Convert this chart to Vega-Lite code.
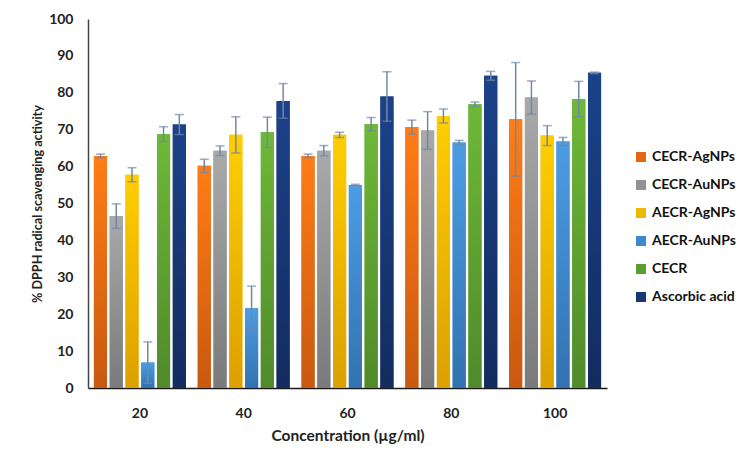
{
  "$schema": "https://vega.github.io/schema/vega-lite/v6.json",
  "width": 519,
  "height": 369,
  "autosize": "none",
  "padding": {"left": 88, "top": 19, "right": 149, "bottom": 78},
  "background": "white",
  "config": {
    "font": "Lato",
    "view": {"stroke": null},
    "axis": {"labelFont": "Lato", "titleFont": "Lato", "labelFontWeight": "bold", "titleFontWeight": "bold", "labelColor": "#222222", "titleColor": "#222222", "labelFontSize": 14, "titleFontSize": 13, "grid": false, "ticks": false},
    "axisY": {"values": [0,10,20,30,40,50,60,70,80,90,100], "labelOverlap": false, "labelPadding": 15, "titlePadding": 4, "titleFontSize": 12.6, "domainColor": "#444444", "domainWidth": 1.5},
    "legend": {"labelFont": "Lato", "labelFontWeight": "bold", "labelFontSize": 14, "labelColor": "#111111"}
  },
  "data": {
    "values": [
      {"conc": "20", "sample": "CECR-AgNPs", "value": 62.9, "lo": 62.4, "hi": 63.4},
      {"conc": "20", "sample": "CECR-AuNPs", "value": 46.6, "lo": 43.3, "hi": 49.9},
      {"conc": "20", "sample": "AECR-AgNPs", "value": 57.8, "lo": 55.9, "hi": 59.7},
      {"conc": "20", "sample": "AECR-AuNPs", "value": 6.9, "lo": 1.3, "hi": 12.5},
      {"conc": "20", "sample": "CECR", "value": 68.8, "lo": 66.8, "hi": 70.8},
      {"conc": "20", "sample": "Ascorbic acid", "value": 71.4, "lo": 68.7, "hi": 74.1},
      {"conc": "40", "sample": "CECR-AgNPs", "value": 60.2, "lo": 58.4, "hi": 62.0},
      {"conc": "40", "sample": "CECR-AuNPs", "value": 64.3, "lo": 63.0, "hi": 65.6},
      {"conc": "40", "sample": "AECR-AgNPs", "value": 68.6, "lo": 63.7, "hi": 73.5},
      {"conc": "40", "sample": "AECR-AuNPs", "value": 21.6, "lo": 15.6, "hi": 27.6},
      {"conc": "40", "sample": "CECR", "value": 69.3, "lo": 65.2, "hi": 73.4},
      {"conc": "40", "sample": "Ascorbic acid", "value": 77.8, "lo": 73.1, "hi": 82.5},
      {"conc": "60", "sample": "CECR-AgNPs", "value": 62.9, "lo": 62.4, "hi": 63.4},
      {"conc": "60", "sample": "CECR-AuNPs", "value": 64.3, "lo": 62.9, "hi": 65.7},
      {"conc": "60", "sample": "AECR-AgNPs", "value": 68.6, "lo": 67.9, "hi": 69.3},
      {"conc": "60", "sample": "AECR-AuNPs", "value": 55.0, "lo": 54.8, "hi": 55.2},
      {"conc": "60", "sample": "CECR", "value": 71.5, "lo": 69.7, "hi": 73.3},
      {"conc": "60", "sample": "Ascorbic acid", "value": 79.0, "lo": 72.3, "hi": 85.7},
      {"conc": "80", "sample": "CECR-AgNPs", "value": 70.7, "lo": 68.8, "hi": 72.6},
      {"conc": "80", "sample": "CECR-AuNPs", "value": 69.8, "lo": 64.7, "hi": 74.9},
      {"conc": "80", "sample": "AECR-AgNPs", "value": 73.7, "lo": 71.8, "hi": 75.6},
      {"conc": "80", "sample": "AECR-AuNPs", "value": 66.5, "lo": 65.9, "hi": 67.1},
      {"conc": "80", "sample": "CECR", "value": 76.9, "lo": 76.3, "hi": 77.5},
      {"conc": "80", "sample": "Ascorbic acid", "value": 84.6, "lo": 83.4, "hi": 85.8},
      {"conc": "100", "sample": "CECR-AgNPs", "value": 72.8, "lo": 57.4, "hi": 88.2},
      {"conc": "100", "sample": "CECR-AuNPs", "value": 78.7, "lo": 74.2, "hi": 83.2},
      {"conc": "100", "sample": "AECR-AgNPs", "value": 68.4, "lo": 65.7, "hi": 71.1},
      {"conc": "100", "sample": "AECR-AuNPs", "value": 66.8, "lo": 65.7, "hi": 67.9},
      {"conc": "100", "sample": "CECR", "value": 78.3, "lo": 73.5, "hi": 83.1},
      {"conc": "100", "sample": "Ascorbic acid", "value": 85.4, "lo": 85.2, "hi": 85.6}
    ]
  },
  "encoding": {
    "x": {"field": "conc", "type": "nominal", "sort": ["20", "40", "60", "80", "100"],
      "scale": {"paddingInner": 0.114, "paddingOuter": 0.057},
      "axis": {"title": "Concentration (µg/ml)", "titleFontSize": 15.5, "labelAngle": 0, "labelPadding": 18, "titlePadding": 8, "domainColor": "#1a1a1a", "domainWidth": 1.5}},
    "xOffset": {"field": "sample", "type": "nominal", "sort": ["CECR-AgNPs", "CECR-AuNPs", "AECR-AgNPs", "AECR-AuNPs", "CECR", "Ascorbic acid"], "scale": {"paddingInner": 0.17}},
    "y": {"field": "value", "type": "quantitative", "scale": {"domain": [0, 100]}, "axis": {"title": "% DPPH radical scavenging activity"}}
  },
  "layer": [
    {
      "mark": {"type": "bar"},
      "encoding": {
        "color": {"field": "sample", "type": "nominal",
          "sort": ["CECR-AgNPs", "CECR-AuNPs", "AECR-AgNPs", "AECR-AuNPs", "CECR", "Ascorbic acid"],
          "scale": {"domain": ["CECR-AgNPs", "CECR-AuNPs", "AECR-AgNPs", "AECR-AuNPs", "CECR", "Ascorbic acid"], "range": ["#E4660F", "#929292", "#EDB900", "#3E88CE", "#5D9E31", "#173874"]},
          "legend": {"title": null, "orient": "none", "legendX": 546, "legendY": 131, "symbolType": "square", "symbolSize": 100, "symbolStrokeWidth": 0, "rowPadding": 14, "labelOffset": 4}}
      }
    },
    {
      "transform": [{"filter": {"field": "sample", "equal": "CECR-AgNPs"}}],
      "mark": {"type": "bar", "color": {"gradient": "linear", "x1": 0, "y1": 0, "x2": 0, "y2": 1, "stops": [{"offset": 0, "color": "#FF7D17"}, {"offset": 1, "color": "#C8590F"}]}}
    },
    {
      "transform": [{"filter": {"field": "sample", "equal": "CECR-AuNPs"}}],
      "mark": {"type": "bar", "color": {"gradient": "linear", "x1": 0, "y1": 0, "x2": 0, "y2": 1, "stops": [{"offset": 0, "color": "#A9A9A9"}, {"offset": 1, "color": "#7A7A7A"}]}}
    },
    {
      "transform": [{"filter": {"field": "sample", "equal": "AECR-AgNPs"}}],
      "mark": {"type": "bar", "color": {"gradient": "linear", "x1": 0, "y1": 0, "x2": 0, "y2": 1, "stops": [{"offset": 0, "color": "#FFCE00"}, {"offset": 1, "color": "#DCA000"}]}}
    },
    {
      "transform": [{"filter": {"field": "sample", "equal": "AECR-AuNPs"}}],
      "mark": {"type": "bar", "color": {"gradient": "linear", "x1": 0, "y1": 0, "x2": 0, "y2": 1, "stops": [{"offset": 0, "color": "#4C9DE4"}, {"offset": 1, "color": "#3272B0"}]}}
    },
    {
      "transform": [{"filter": {"field": "sample", "equal": "CECR"}}],
      "mark": {"type": "bar", "color": {"gradient": "linear", "x1": 0, "y1": 0, "x2": 0, "y2": 1, "stops": [{"offset": 0, "color": "#6EB937"}, {"offset": 1, "color": "#508A2B"}]}}
    },
    {
      "transform": [{"filter": {"field": "sample", "equal": "Ascorbic acid"}}],
      "mark": {"type": "bar", "color": {"gradient": "linear", "x1": 0, "y1": 0, "x2": 0, "y2": 1, "stops": [{"offset": 0, "color": "#1C428A"}, {"offset": 1, "color": "#122C5E"}]}}
    },
    {
      "mark": {"type": "rule", "color": "#7088A8", "strokeWidth": 1.5},
      "encoding": {
        "y": {"field": "lo", "type": "quantitative", "axis": {"title": "% DPPH radical scavenging activity"}},
        "y2": {"field": "hi"}
      }
    },
    {
      "mark": {"type": "tick", "color": "#7088A8", "thickness": 1.5, "size": 9},
      "encoding": {"y": {"field": "lo", "type": "quantitative", "axis": {"title": "% DPPH radical scavenging activity"}}}
    },
    {
      "mark": {"type": "tick", "color": "#7088A8", "thickness": 1.5, "size": 9},
      "encoding": {"y": {"field": "hi", "type": "quantitative", "axis": {"title": "% DPPH radical scavenging activity"}}}
    }
  ]
}
